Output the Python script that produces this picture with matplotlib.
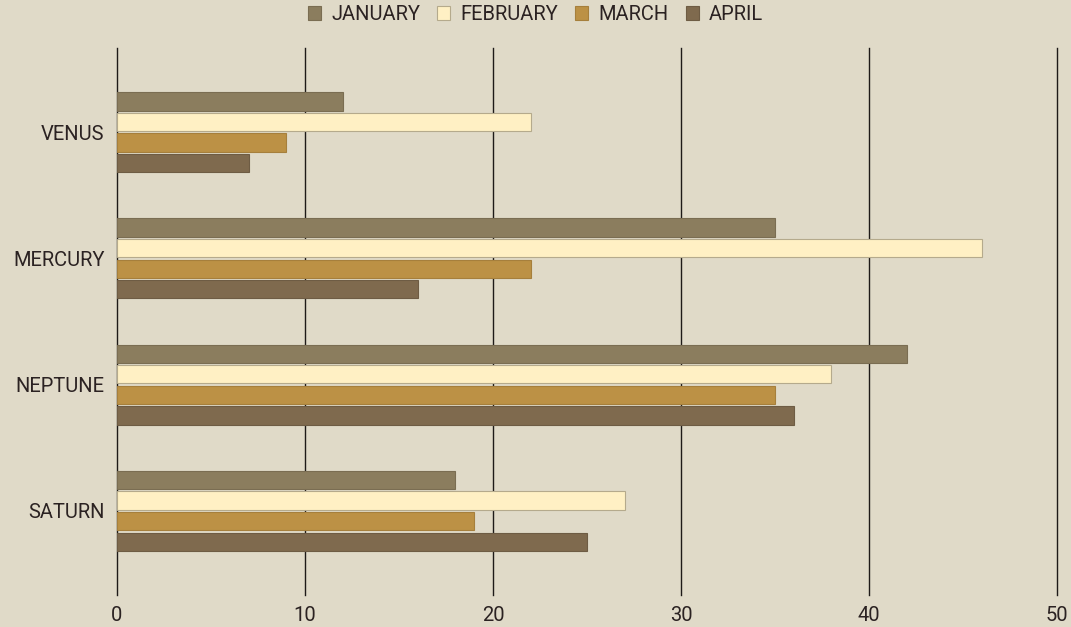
import matplotlib.pyplot as plt
import numpy as np

plt.rcParams['font.family'] = ['Roboto', 'DejaVu Sans']

planets = ['VENUS', 'MERCURY', 'NEPTUNE', 'SATURN']
months = ['JANUARY', 'FEBRUARY', 'MARCH', 'APRIL']
january = [12, 35, 42, 18]
february = [22, 46, 38, 27]
march = [9, 22, 35, 19]
april = [7, 16, 36, 25]

colors = ['#8B7D5E', '#FFF0C4', '#BC9145', '#7F6A4E']
edges = ['#7A6D52', '#B5AA8C', '#A67F3C', '#6E5C44']
BG = '#E0DAC8'
TEXT = '#2B2222'

fig = plt.figure(figsize=(10.71, 6.27), dpi=100, facecolor=BG)
ax = fig.add_axes([0.1092, 0.051, 0.8777, 0.8724], facecolor=BG)

y = np.arange(len(planets))
step = 0.163
height = 0.145
for i, (vals, name) in enumerate(zip([january, february, march, april], months)):
    ax.barh(y + (i - 1.5) * step, vals, height=height, color=colors[i],
            edgecolor=edges[i], linewidth=0.8, label=name, zorder=3)

ax.set_xlim(0, 50)
ax.set_ylim(3.667, -0.667)
ax.set_xticks(range(0, 51, 10))
ax.set_yticks(y)
ax.set_yticklabels(planets)
ax.grid(axis='x', color='#1E1A18', linewidth=1, zorder=0)
ax.grid(axis='y', visible=False)
for gl in ax.get_xgridlines():
    gl.set_clip_on(False)
for s in ax.spines.values():
    s.set_visible(False)
ax.tick_params(axis='both', length=0, labelsize=14.5, colors=TEXT)
ax.tick_params(axis='y', pad=9)
ax.tick_params(axis='x', pad=8)

leg = fig.legend(loc='upper center', bbox_to_anchor=(0.5, 1.021), ncol=4, frameon=False,
                 fontsize=14.5, handlelength=0.65, handleheight=0.65, handletextpad=0.5,
                 columnspacing=0.85, labelcolor=TEXT)

fig.savefig('out.png', dpi=100, facecolor=BG)
